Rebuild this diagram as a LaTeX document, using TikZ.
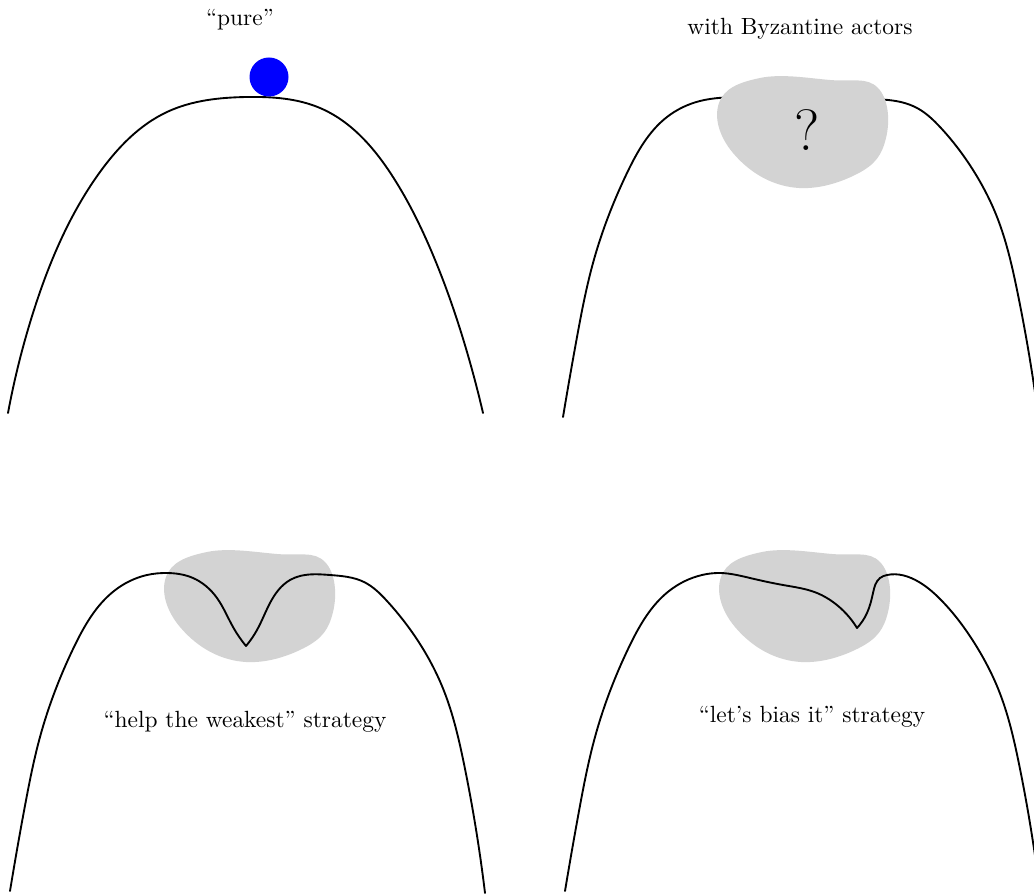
\documentclass[tikz,border=0pt]{standalone}
\usepackage{amsmath}
\usepackage{tikz}
\usetikzlibrary{calc,positioning,hobby}
\definecolor{blobgray}{RGB}{211,211,211}

\begin{document}
\begin{tikzpicture}[x=0.015cm,y=-0.015cm,
                hill/.style={thick,line cap=round,use Hobby shortcut},
                blob/.style={fill=blobgray},
                ball/.style={circle,fill=blue,inner sep=0pt,minimum size=5.85mm}
            ]
                \useasboundingbox (0,0) rectangle (1034,895);
                % top left: the plain hill
                \draw[hill] (8,413) .. (33,313) .. (67,227) .. (100,172) .. (167,112) .. (247,97) .. (320,108) .. (393,177) .. (433,255) .. (467,352) .. (483,413);
                \node[ball] (b) at (269,77) {};
                \node (pure) at (240,20) {``pure''};
                % top right: hill under the blob
                \draw[hill] (563,417) .. (577,337) .. (593,263) .. (627,173) .. (667,117) .. (700,101) .. (740,97) .. (800,97) .. (860,99) .. (917,108) .. (940,127) .. (973,170) .. (997,217) .. (1017,290) .. (1038,414);
                \foreach \s in {{(0,0)},{(-553,474)},{(2,474)}} {
                    \fill[blob,shift=\s] plot[smooth cycle,tension=0.7] coordinates {(719,103) (760,78) (830,80) (878,88) (886,138) (857,174) (790,187) (733,153)};
                }
                \node[font=\Huge] (q) at (807,130) {?};
                \node (byz) at (800,29) {with Byzantine actors};
                % bottom left
                \begin{scope}[shift={(-553,474)}]
                    \draw[hill] (563,417) .. (577,337) .. (593,263) .. (627,173) .. (667,117) .. (700,101) .. (720,99) .. (746,104) .. (770,124) .. (786,153) .. (799,172);
                    \draw[hill] (799,172) .. (810,156) .. (823,129) .. (843,106) .. (853,102) .. (883,101) .. (917,108) .. (940,127) .. (973,170) .. (997,217) .. (1017,290) .. (1038,419);
                \end{scope}
                \node (weak) at (245,722) {``help the weakest'' strategy};
                % bottom right
                \begin{scope}[shift={(2,474)}]
                    \draw[hill] (563,417) .. (577,337) .. (593,263) .. (627,173) .. (667,117) .. (700,101) .. (718,99) .. (748,104) .. (781,111) .. (815,119) .. (831,128) .. (855,154);
                    \draw[hill] (855,154) .. (865,139) .. (871,119) .. (878,104) .. (885,101) .. (917,108) .. (940,127) .. (973,170) .. (997,217) .. (1017,290) .. (1038,419);
                \end{scope}
                \node (bias) at (812,717) {``let's bias it'' strategy};
            \end{tikzpicture}
\end{document}
